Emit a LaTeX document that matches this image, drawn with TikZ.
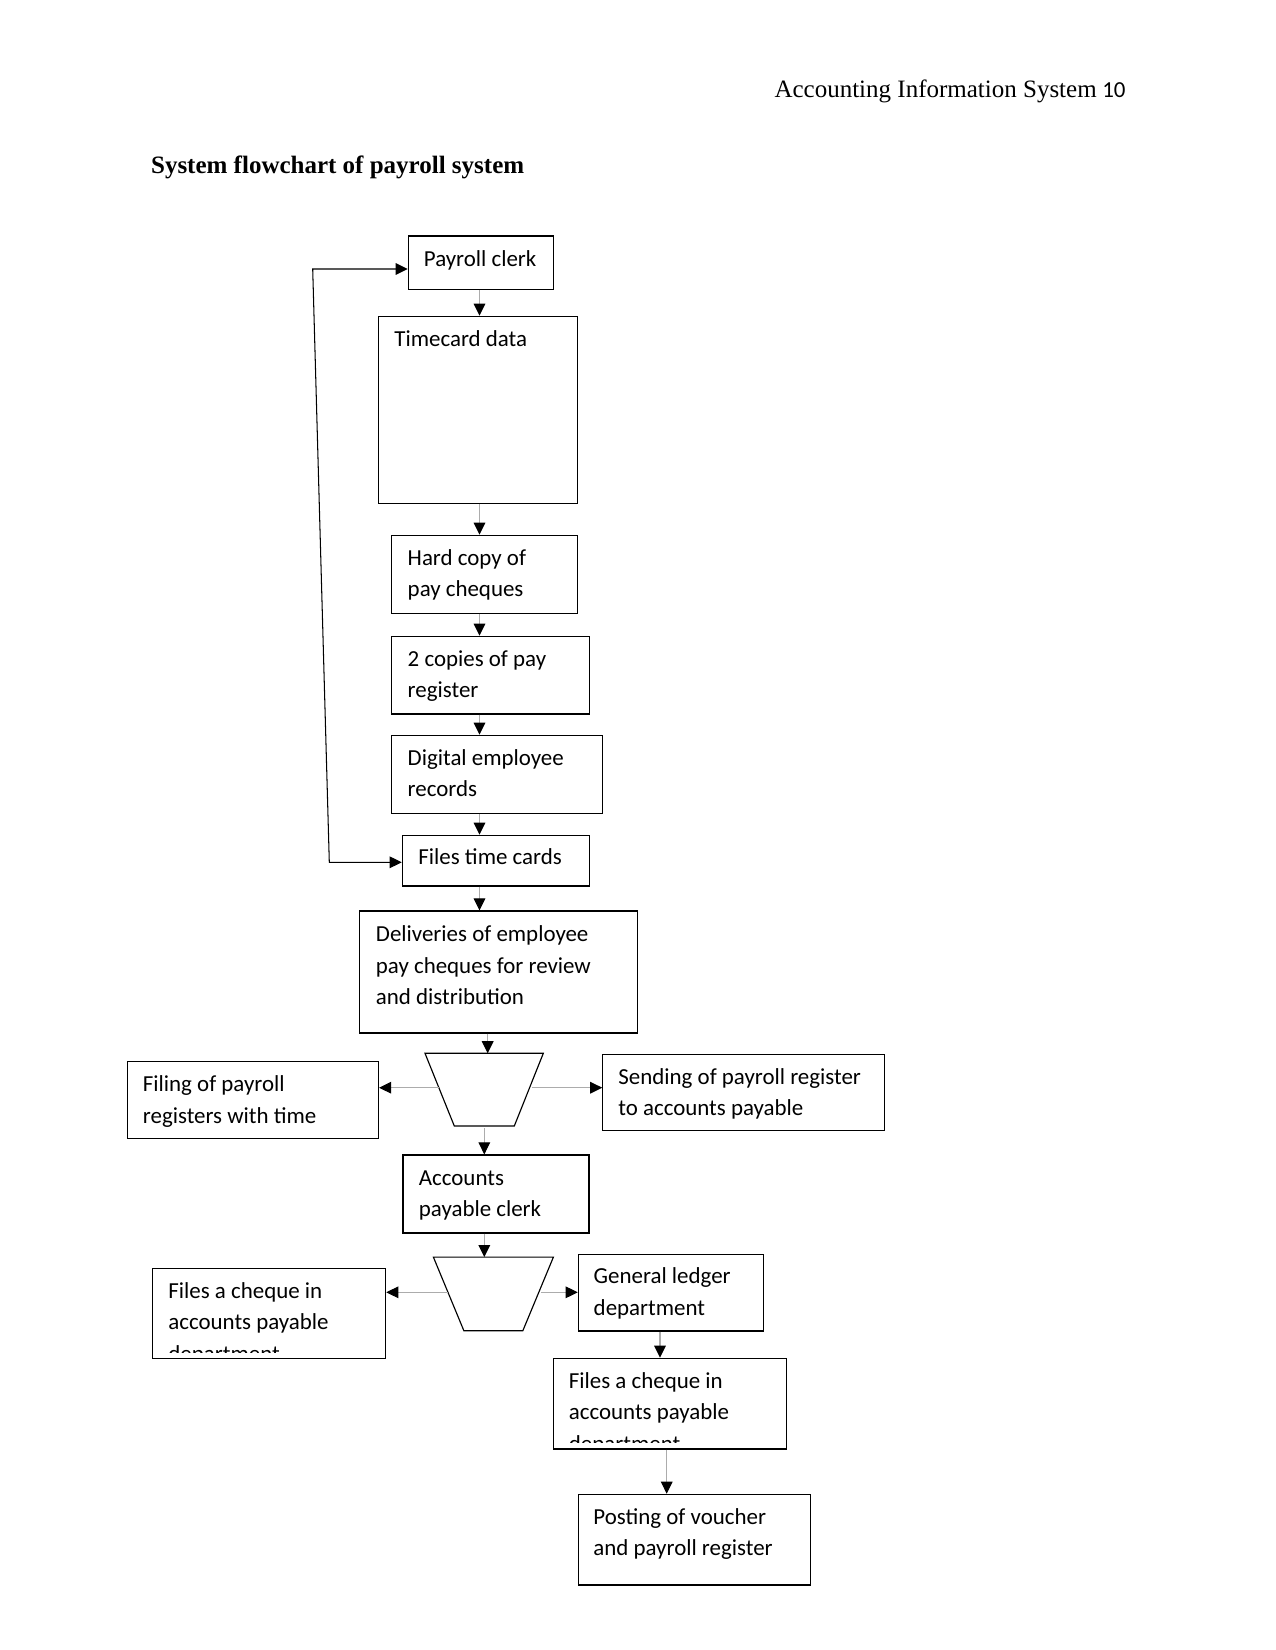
\documentclass[tikz,border=0pt]{standalone}
\usepackage{fontspec}
\setmainfont{Carlito}
\newfontfamily\serif{Liberation Serif}
\usetikzlibrary{arrows.meta,fit}
\newcommand\twol[2]{\vtop{\hbox{#1}\hbox{#2}}}
\newcommand\threel[3]{\vtop{\hbox{#1}\hbox{#2}\hbox{#3}}}
\tikzset{
  box/.style={draw, line width=0.55pt, inner sep=0pt},
  txt/.style={anchor=base west, inner sep=0pt, yshift=-0.7pt, font=\fontsize{11pt}{15.1pt}\selectfont},
  conn/.style={draw=gray!65, line width=0.5pt, -{Triangle[width=5.6pt,length=5.8pt,color=black]}},
  loopline/.style={draw=black, line width=0.5pt, {Triangle[width=5.6pt,length=5.8pt,color=black]}-{Triangle[width=5.6pt,length=5.8pt,color=black]}},
  trap/.style={draw=black, line width=0.55pt}
}
\begin{document}
\begin{tikzpicture}[x=0.48pt,y=-0.48pt]
\useasboundingbox (0,0) rectangle (1275,1650);
\fill[white] (0,0) rectangle (1275,1650);

% header and title
\node[anchor=base east, inner sep=0pt, font=\fontsize{12pt}{14pt}\selectfont] (hdr) at (1126,97.7) {{\serif Accounting Information System} {\fontsize{11pt}{13pt}\selectfont 10}};
\node[anchor=base west, inner sep=0pt, font=\fontsize{12pt}{14pt}\selectfont] (title) at (150.7,173.3) {\serif\bfseries System flowchart of payroll system};

% boxes
\node[box, fit={(408.3,236) (553.7,289.3)}] (pc) {};
\node[txt] (pct) at (423.5,265.5) {Payroll clerk};
\node[box, fit={(378.3,316.3) (577.3,503.3)}] (td) {};
\node[txt] (tdt) at (394,345) {Timecard data};
\node[box, fit={(391.3,535.3) (577.3,613.3)}] (hc) {};
\node[txt] (hct) at (407.3,564) {\twol{Hard copy of}{pay cheques}};
\node[box, fit={(391.3,636.3) (589.3,714)}] (cp) {};
\node[txt] (cpt) at (407.3,665) {\twol{2 copies of pay}{register}};
\node[box, fit={(391.3,735.3) (602.3,813.3)}] (de) {};
\node[txt] (det) at (407.3,764) {\twol{Digital employee}{records}};
\node[box, fit={(402.3,835.3) (589.3,886)}] (ft) {};
\node[txt] (ftt) at (418,863) {Files time cards};
\node[box, fit={(359.8,911) (637.5,1033)}] (dl) {};
\node[txt] (dlt) at (375.5,940.5) {\threel{Deliveries of employee}{pay cheques for review}{and distribution}};
\node[box, fit={(127.3,1061.3) (378.5,1138.3)}] (fp) {};
\node[txt] (fpt) at (142.5,1090.5) {\twol{Filing of payroll}{registers with time}};
\node[box, fit={(602.8,1054.2) (884.7,1130.7)}] (sp) {};
\node[txt] (spt) at (618,1083) {\twol{Sending of payroll register}{to accounts payable}};
\node[box, fit={(403,1155) (589,1233)}] (ac) {};
\node[txt] (act) at (418.5,1184) {\twol{Accounts}{payable clerk}};
\node[box, fit={(152.3,1268.3) (385.7,1358.3)}] (fc1) {};
\begin{scope}
\clip (152.3,1268.3) rectangle (385.7,1352);
\node[txt] (fc1t) at (168,1296.7) {\threel{Files a cheque in}{accounts payable}{department}};
\end{scope}
\node[box, fit={(578.3,1254.3) (763.3,1331)}] (gl) {};
\node[txt] (glt) at (593.3,1282.5) {\twol{General ledger}{department}};
\node[box, fit={(553.3,1358.3) (786.7,1449)}] (fc2) {};
\begin{scope}
\clip (553.3,1358.3) rectangle (786.7,1442);
\node[txt] (fc2t) at (568.5,1386.7) {\threel{Files a cheque in}{accounts payable}{department}};
\end{scope}
\node[box, fit={(578.3,1494.3) (810.3,1585)}] (po) {};
\node[txt] (pot) at (593,1523) {\twol{Posting of voucher}{and payroll register}};

% trapezoids
\draw[trap] (425,1053.3) -- (543.3,1053.3) -- (514.3,1126) -- (454.3,1126) -- cycle;
\coordinate (t1top) at (487.7,1053.3);
\coordinate (t1bot) at (484.3,1128);
\coordinate (t1L) at (438.7,1087.7);
\coordinate (t1R) at (532.3,1087.7);
\draw[trap] (433.4,1257.1) -- (553.4,1257.1) -- (522.8,1330.8) -- (463.9,1330.8) -- cycle;
\coordinate (t2top) at (484.3,1257.1);
\coordinate (t2L) at (447.8,1292.3);
\coordinate (t2R) at (541,1292.3);

% connectors
\coordinate (ax) at (479.5,0);
\draw[conn] (pc.south -| ax) -- (td.north -| ax);
\draw[conn] (td.south -| ax) -- (hc.north -| ax);
\draw[conn] (hc.south -| ax) -- (cp.north -| ax);
\draw[conn] (cp.south -| ax) -- (de.north -| ax);
\draw[conn] (de.south -| ax) -- (ft.north -| ax);
\draw[conn] (ft.south -| ax) -- (dl.north -| ax);
\draw[conn] (dl.south -| t1top) -- (t1top);
\draw[conn] (t1L) -- (fp.east |- t1L);
\draw[conn] (t1R) -- (sp.west |- t1R);
\draw[conn] (t1bot) -- (ac.north -| t1bot);
\draw[conn] (ac.south -| t2top) -- (t2top);
\draw[conn] (t2L) -- (fc1.east |- t2L);
\draw[conn] (t2R) -- (gl.west |- t2R);
\coordinate (ax2) at (660,0);
\draw[conn] (gl.south -| ax2) -- (fc2.north -| ax2);
\coordinate (ax3) at (666.7,0);
\draw[conn] (fc2.south -| ax3) -- (po.north -| ax3);

% feedback loop
\coordinate (lt) at (312.7,269);
\coordinate (lb) at (329.3,862.3);
\draw[loopline] (pc.west |- lt) -- (lt) -- (lb) -- (ft.west |- lb);
\end{tikzpicture}
\end{document}
